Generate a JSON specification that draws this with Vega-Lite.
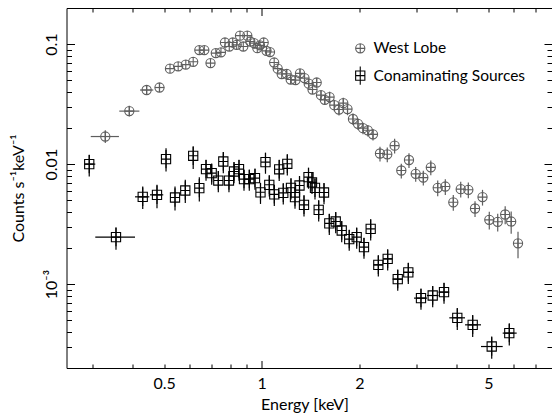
{
  "$schema": "https://vega.github.io/schema/vega-lite/v6.json",
  "width": 485.5,
  "height": 360,
  "autosize": {"type": "none"},
  "padding": {"left": 66.5, "top": 8, "right": 0, "bottom": 49},
  "background": "white",
  "config": {
    "view": {"stroke": null},
    "font": "Lato",
    "axis": {
      "labelFont": "Lato", "titleFont": "Lato", "labelFontSize": 16, "titleFontSize": 16,
      "labelColor": "#000", "titleColor": "#000", "titleFontWeight": "normal",
      "domainColor": "#000", "tickColor": "#000", "domainWidth": 1, "tickWidth": 1,
      "grid": false, "labelOverlap": false, "labelFlush": false, "labelBound": false
    },
    "legend": {
      "labelFont": "Lato", "labelFontSize": 15.5, "symbolSize": 85, "symbolStrokeWidth": 1.1,
      "rowPadding": 6.3, "labelOffset": 5.5, "padding": 0, "labelLimit": 300
    }
  },
  "data": {"values": [
    {"s": "West Lobe", "e": 0.3293, "c": 0.01698, "elo": 0.297, "ehi": 0.3628, "clo": 0.0150, "chi": 0.0192},
    {"s": "West Lobe", "e": 0.3905, "c": 0.02765, "elo": 0.3637, "ehi": 0.4195, "clo": 0.02493, "chi": 0.0306},
    {"s": "West Lobe", "e": 0.4417, "c": 0.04145, "elo": 0.4214, "ehi": 0.4630, "clo": 0.03839, "chi": 0.04477},
    {"s": "West Lobe", "e": 0.4839, "c": 0.04348, "elo": 0.4696, "ehi": 0.5006, "clo": 0.04027, "chi": 0.0469},
    {"s": "West Lobe", "e": 0.5214, "c": 0.06249},
    {"s": "West Lobe", "e": 0.5526, "c": 0.06531},
    {"s": "West Lobe", "e": 0.5833, "c": 0.06749},
    {"s": "West Lobe", "e": 0.6148, "c": 0.07121},
    {"s": "West Lobe", "e": 0.6421, "c": 0.08913},
    {"s": "West Lobe", "e": 0.6653, "c": 0.08913},
    {"s": "West Lobe", "e": 0.6952, "c": 0.06946},
    {"s": "West Lobe", "e": 0.7218, "c": 0.08414},
    {"s": "West Lobe", "e": 0.7488, "c": 0.08541},
    {"s": "West Lobe", "e": 0.7704, "c": 0.1031},
    {"s": "West Lobe", "e": 0.7943, "c": 0.0955},
    {"s": "West Lobe", "e": 0.8140, "c": 0.1031},
    {"s": "West Lobe", "e": 0.8374, "c": 0.09866},
    {"s": "West Lobe", "e": 0.8573, "c": 0.1177},
    {"s": "West Lobe", "e": 0.8774, "c": 0.0955},
    {"s": "West Lobe", "e": 0.9029, "c": 0.1177},
    {"s": "West Lobe", "e": 0.9223, "c": 0.1051},
    {"s": "West Lobe", "e": 0.9468, "c": 0.1019},
    {"s": "West Lobe", "e": 0.9692, "c": 0.09261},
    {"s": "West Lobe", "e": 0.9880, "c": 0.09772},
    {"s": "West Lobe", "e": 1.0143, "c": 0.1031},
    {"s": "West Lobe", "e": 1.0347, "c": 0.08793},
    {"s": "West Lobe", "e": 1.0607, "c": 0.08591},
    {"s": "West Lobe", "e": 1.0928, "c": 0.07025},
    {"s": "West Lobe", "e": 1.1205, "c": 0.06249},
    {"s": "West Lobe", "e": 1.1527, "c": 0.05635},
    {"s": "West Lobe", "e": 1.1941, "c": 0.05656, "clo": 0.05204, "chi": 0.06108},
    {"s": "West Lobe", "e": 1.2284, "c": 0.0507, "clo": 0.04664, "chi": 0.05476},
    {"s": "West Lobe", "e": 1.2716, "c": 0.05012, "clo": 0.04611, "chi": 0.05413},
    {"s": "West Lobe", "e": 1.3126, "c": 0.0571, "clo": 0.05253, "chi": 0.06167},
    {"s": "West Lobe", "e": 1.3552, "c": 0.05208, "clo": 0.04791, "chi": 0.05625},
    {"s": "West Lobe", "e": 1.3964, "c": 0.04686, "clo": 0.04311, "chi": 0.05061},
    {"s": "West Lobe", "e": 1.4346, "c": 0.04185, "clo": 0.0385, "chi": 0.0452},
    {"s": "West Lobe", "e": 1.4778, "c": 0.04786, "clo": 0.04403, "chi": 0.05169},
    {"s": "West Lobe", "e": 1.5237, "c": 0.03758, "clo": 0.03457, "chi": 0.04059},
    {"s": "West Lobe", "e": 1.5653, "c": 0.03434, "clo": 0.03159, "chi": 0.03709},
    {"s": "West Lobe", "e": 1.6196, "c": 0.03617, "clo": 0.03219, "chi": 0.04015},
    {"s": "West Lobe", "e": 1.6745, "c": 0.03102, "clo": 0.02761, "chi": 0.03443},
    {"s": "West Lobe", "e": 1.7314, "c": 0.02851, "clo": 0.02537, "chi": 0.03165},
    {"s": "West Lobe", "e": 1.7852, "c": 0.03223, "clo": 0.02868, "chi": 0.03578},
    {"s": "West Lobe", "e": 1.8395, "c": 0.02873, "clo": 0.02557, "chi": 0.03189},
    {"s": "West Lobe", "e": 1.9122, "c": 0.02376, "clo": 0.02115, "chi": 0.02637},
    {"s": "West Lobe", "e": 1.9815, "c": 0.02167, "clo": 0.01929, "chi": 0.02405},
    {"s": "West Lobe", "e": 2.0535, "c": 0.01995, "clo": 0.01776, "chi": 0.02214},
    {"s": "West Lobe", "e": 2.1246, "c": 0.01913, "clo": 0.01703, "chi": 0.02123},
    {"s": "West Lobe", "e": 2.2043, "c": 0.01771, "clo": 0.01576, "chi": 0.01966},
    {"s": "West Lobe", "e": 2.3166, "c": 0.01226, "clo": 0.01054, "chi": 0.01398},
    {"s": "West Lobe", "e": 2.4399, "c": 0.01207, "clo": 0.01038, "chi": 0.01376},
    {"s": "West Lobe", "e": 2.5704, "c": 0.01426, "clo": 0.01226, "chi": 0.01626},
    {"s": "West Lobe", "e": 2.6955, "c": 0.008845, "clo": 0.007607, "chi": 0.01008},
    {"s": "West Lobe", "e": 2.8465, "c": 0.01082, "clo": 0.009305, "chi": 0.01234},
    {"s": "West Lobe", "e": 2.9854, "c": 0.008301, "clo": 0.007139, "chi": 0.009463},
    {"s": "West Lobe", "e": 3.1514, "c": 0.007718, "clo": 0.006637, "chi": 0.008799},
    {"s": "West Lobe", "e": 3.3236, "c": 0.009404, "clo": 0.008087, "chi": 0.01072},
    {"s": "West Lobe", "e": 3.4908, "c": 0.006346, "clo": 0.005394, "chi": 0.007298},
    {"s": "West Lobe", "e": 3.6843, "c": 0.006506, "clo": 0.00553, "chi": 0.007482},
    {"s": "West Lobe", "e": 3.8994, "c": 0.004805, "clo": 0.004084, "chi": 0.005526},
    {"s": "West Lobe", "e": 4.1104, "c": 0.006189, "clo": 0.005261, "chi": 0.007117},
    {"s": "West Lobe", "e": 4.3387, "c": 0.006107, "clo": 0.005191, "chi": 0.007023},
    {"s": "West Lobe", "e": 4.5497, "c": 0.004266, "clo": 0.003626, "chi": 0.004906},
    {"s": "West Lobe", "e": 4.7983, "c": 0.005309, "clo": 0.004513, "chi": 0.006105},
    {"s": "West Lobe", "e": 5.035, "c": 0.003434, "clo": 0.00285, "chi": 0.004018},
    {"s": "West Lobe", "e": 5.3456, "c": 0.003305, "clo": 0.002743, "chi": 0.003867},
    {"s": "West Lobe", "e": 5.6366, "c": 0.003802, "clo": 0.003156, "chi": 0.004448},
    {"s": "West Lobe", "e": 5.8821, "c": 0.003324, "clo": 0.002626, "chi": 0.004022},
    {"s": "West Lobe", "e": 6.1741, "c": 0.002188, "clo": 0.001641, "chi": 0.002735},
    {"s": "Conaminating Sources", "e": 0.2938, "c": 0.01, "elo": 0.2836, "ehi": 0.3067, "clo": 0.007881, "chi": 0.01196},
    {"s": "Conaminating Sources", "e": 0.3553, "c": 0.002464, "elo": 0.3067, "ehi": 0.4067, "clo": 0.001931, "chi": 0.002985},
    {"s": "Conaminating Sources", "e": 0.4296, "c": 0.005339, "elo": 0.4067, "ehi": 0.4502, "clo": 0.004217, "chi": 0.006506},
    {"s": "Conaminating Sources", "e": 0.4754, "c": 0.005548, "elo": 0.4523, "ehi": 0.497, "clo": 0.004298, "chi": 0.006723},
    {"s": "Conaminating Sources", "e": 0.5069, "c": 0.01101, "clo": 0.008679, "chi": 0.01359},
    {"s": "Conaminating Sources", "e": 0.5403, "c": 0.005268, "clo": 0.004104, "chi": 0.006506},
    {"s": "Conaminating Sources", "e": 0.5812, "c": 0.006026, "clo": 0.004732, "chi": 0.007397},
    {"s": "Conaminating Sources", "e": 0.6148, "c": 0.01173, "clo": 0.009087, "chi": 0.01402},
    {"s": "Conaminating Sources", "e": 0.6421, "c": 0.00631, "clo": 0.00488, "chi": 0.007792},
    {"s": "Conaminating Sources", "e": 0.6734, "c": 0.009087, "clo": 0.00727, "chi": 0.0109},
    {"s": "Conaminating Sources", "e": 0.7011, "c": 0.008414, "clo": 0.006731, "chi": 0.0101},
    {"s": "Conaminating Sources", "e": 0.7348, "c": 0.007297, "clo": 0.005838, "chi": 0.008756},
    {"s": "Conaminating Sources", "e": 0.7614, "c": 0.01051, "clo": 0.008408, "chi": 0.01261},
    {"s": "Conaminating Sources", "e": 0.7926, "c": 0.007297, "clo": 0.005838, "chi": 0.008756},
    {"s": "Conaminating Sources", "e": 0.8215, "c": 0.008679, "clo": 0.006943, "chi": 0.01041},
    {"s": "Conaminating Sources", "e": 0.8511, "c": 0.009087, "clo": 0.00727, "chi": 0.0109},
    {"s": "Conaminating Sources", "e": 0.8819, "c": 0.007499, "clo": 0.005999, "chi": 0.008999},
    {"s": "Conaminating Sources", "e": 0.9157, "c": 0.007499, "clo": 0.005999, "chi": 0.008999},
    {"s": "Conaminating Sources", "e": 0.9535, "c": 0.007644, "clo": 0.006115, "chi": 0.009173},
    {"s": "Conaminating Sources", "e": 0.9915, "c": 0.005821, "clo": 0.004657, "chi": 0.006985},
    {"s": "Conaminating Sources", "e": 1.0273, "c": 0.01039, "clo": 0.008312, "chi": 0.01247},
    {"s": "Conaminating Sources", "e": 1.0554, "c": 0.006723, "clo": 0.005378, "chi": 0.008068},
    {"s": "Conaminating Sources", "e": 1.0936, "c": 0.005601, "clo": 0.004481, "chi": 0.006721},
    {"s": "Conaminating Sources", "e": 1.1324, "c": 0.009052, "clo": 0.007242, "chi": 0.01086},
    {"s": "Conaminating Sources", "e": 1.1656, "c": 0.005765, "clo": 0.004612, "chi": 0.006918},
    {"s": "Conaminating Sources", "e": 1.1995, "c": 0.01006, "clo": 0.008048, "chi": 0.01207},
    {"s": "Conaminating Sources", "e": 1.2313, "c": 0.006346, "clo": 0.005077, "chi": 0.007615},
    {"s": "Conaminating Sources", "e": 1.2669, "c": 0.005309, "clo": 0.004247, "chi": 0.006371},
    {"s": "Conaminating Sources", "e": 1.3081, "c": 0.006633, "clo": 0.005306, "chi": 0.00796},
    {"s": "Conaminating Sources", "e": 1.3505, "c": 0.004579, "clo": 0.003663, "chi": 0.005495},
    {"s": "Conaminating Sources", "e": 1.3944, "c": 0.007792, "clo": 0.006234, "chi": 0.00935},
    {"s": "Conaminating Sources", "e": 1.4295, "c": 0.00705, "clo": 0.00564, "chi": 0.00846},
    {"s": "Conaminating Sources", "e": 1.4601, "c": 0.006346, "clo": 0.005077, "chi": 0.007615},
    {"s": "Conaminating Sources", "e": 1.499, "c": 0.004161, "clo": 0.003329, "chi": 0.004993},
    {"s": "Conaminating Sources", "e": 1.5567, "c": 0.005799, "clo": 0.004639, "chi": 0.006959},
    {"s": "Conaminating Sources", "e": 1.6163, "c": 0.003211, "clo": 0.002569, "chi": 0.003853},
    {"s": "Conaminating Sources", "e": 1.6918, "c": 0.003324, "clo": 0.002659, "chi": 0.003989},
    {"s": "Conaminating Sources", "e": 1.7654, "c": 0.002797, "clo": 0.002238, "chi": 0.003356},
    {"s": "Conaminating Sources", "e": 1.862, "c": 0.002371, "clo": 0.001897, "chi": 0.002845},
    {"s": "Conaminating Sources", "e": 1.9634, "c": 0.002464, "clo": 0.001971, "chi": 0.002957},
    {"s": "Conaminating Sources", "e": 2.0678, "c": 0.002033, "clo": 0.001626, "chi": 0.00244},
    {"s": "Conaminating Sources", "e": 2.1685, "c": 0.002889, "clo": 0.002311, "chi": 0.003467},
    {"s": "Conaminating Sources", "e": 2.2894, "c": 0.001448, "elo": 2.2125, "ehi": 2.3666, "clo": 0.001158, "chi": 0.001738},
    {"s": "Conaminating Sources", "e": 2.4468, "c": 0.001624, "elo": 2.3666, "ehi": 2.532, "clo": 0.001299, "chi": 0.001949},
    {"s": "Conaminating Sources", "e": 2.6279, "c": 0.001101, "elo": 2.532, "ehi": 2.729, "clo": 0.000881, "chi": 0.001321},
    {"s": "Conaminating Sources", "e": 2.8327, "c": 0.001254, "elo": 2.729, "ehi": 2.9498, "clo": 0.001003, "chi": 0.001505},
    {"s": "Conaminating Sources", "e": 3.0997, "c": 0.0007644, "elo": 2.9498, "ehi": 3.2358, "clo": 0.0006115, "chi": 0.0009173},
    {"s": "Conaminating Sources", "e": 3.3686, "c": 0.0008035, "elo": 3.2358, "ehi": 3.5108, "clo": 0.0006428, "chi": 0.0009642},
    {"s": "Conaminating Sources", "e": 3.6506, "c": 0.0008577, "elo": 3.5108, "ehi": 3.79, "clo": 0.0006862, "chi": 0.001029},
    {"s": "Conaminating Sources", "e": 4.0114, "c": 0.0005238, "elo": 3.79, "ehi": 4.2382, "clo": 0.0004138, "chi": 0.0006338},
    {"s": "Conaminating Sources", "e": 4.475, "c": 0.0004579, "elo": 4.2382, "ehi": 4.7479, "clo": 0.0003617, "chi": 0.0005541},
    {"s": "Conaminating Sources", "e": 5.1225, "c": 0.000302, "elo": 4.7479, "ehi": 5.5376, "clo": 0.0002386, "chi": 0.0003654},
    {"s": "Conaminating Sources", "e": 5.8029, "c": 0.0003906, "elo": 5.5376, "ehi": 6.1169, "clo": 0.0003086, "chi": 0.0004726}
  ]},
  "layer": [
    {
      "mark": {"type": "point", "filled": false, "size": 85, "strokeWidth": 1.1, "opacity": 1},
      "encoding": {
        "x": {
          "field": "e", "type": "quantitative",
          "scale": {"type": "log", "domain": [0.25, 7.86], "nice": false},
          "axis": {
            "orient": "bottom",
            "values": [0.3, 0.4, 0.5, 0.6, 0.7, 0.8, 0.9, 1, 2, 3, 4, 5, 6, 7],
            "labelExpr": "indexof([0.5, 1, 2, 5], datum.value) >= 0 ? '' + datum.value : ''",
            "tickSize": {"condition": {"test": "datum.value == 1", "value": -7.5}, "value": -4},
            "labelPadding": {"condition": {"test": "datum.value == 1", "value": 15}, "value": 11.5},
            "title": "Energy [keV]",
            "titleX": 238,
            "titlePadding": 5
          }
        },
        "y": {
          "field": "c", "type": "quantitative",
          "scale": {"type": "log", "domain": [0.0002, 0.2], "nice": false},
          "axis": {
            "orient": "left",
            "values": [0.0003, 0.0004, 0.0005, 0.0006, 0.0007, 0.0008, 0.0009, 0.001, 0.002, 0.003, 0.004, 0.005, 0.006, 0.007, 0.008, 0.009, 0.01, 0.02, 0.03, 0.04, 0.05, 0.06, 0.07, 0.08, 0.09, 0.1],
            "labelExpr": "datum.value == 0.1 ? '0.1' : datum.value == 0.01 ? '0.01' : datum.value == 0.001 ? '10⁻³' : ''",
            "labelAngle": -90,
            "labelAlign": "center",
            "labelBaseline": "bottom",
            "tickSize": {"condition": {"test": "datum.value == 0.1 || datum.value == 0.01 || datum.value == 0.001", "value": -8}, "value": -5},
            "labelPadding": {"condition": {"test": "datum.value == 0.1 || datum.value == 0.01 || datum.value == 0.001", "value": 15}, "value": 12},
            "title": "Counts s⁻¹keV⁻¹",
            "titlePadding": 17
          }
        },
        "color": {
          "field": "s", "type": "nominal",
          "scale": {"domain": ["West Lobe", "Conaminating Sources"], "range": ["#5e5e5e", "#000000"]},
          "legend": {"title": null, "orient": "none", "legendX": 286, "legendY": 32.6,
            "encode": {"labels": {"update": {"fill": [{"test": "datum.value === 'West Lobe'", "value": "#6b6b6b"}, {"value": "#000000"}]}}}}
        },
        "shape": {
          "field": "s", "type": "nominal",
          "scale": {"domain": ["West Lobe", "Conaminating Sources"], "range": ["M-1,0A1,1 0 1,1 1,0A1,1 0 1,1 -1,0ZM-1,0L1,0M0,-1L0,1", "M-1,-1L1,-1L1,1L-1,1ZM-1,0L1,0M0,-2L0,2"]},
          "legend": {"title": null, "orient": "none", "legendX": 286, "legendY": 32.6,
            "encode": {"labels": {"update": {"fill": [{"test": "datum.value === 'West Lobe'", "value": "#6b6b6b"}, {"value": "#000000"}]}}}}
        }
      }
    },
    {
      "transform": [{"filter": "isValid(datum.elo) && datum.s == 'West Lobe'"}],
      "mark": {"type": "rule", "strokeWidth": 1.2, "color": "#5e5e5e"},
      "encoding": {
        "x": {"field": "elo", "type": "quantitative", "scale": {"type": "log", "domain": [0.25, 7.86], "nice": false}, "axis": null},
        "x2": {"field": "ehi"},
        "y": {"field": "c", "type": "quantitative", "scale": {"type": "log", "domain": [0.0002, 0.2], "nice": false}, "axis": null}
      }
    },
    {
      "transform": [{"filter": "isValid(datum.elo) && datum.s != 'West Lobe'"}],
      "mark": {"type": "rule", "strokeWidth": 1.2, "color": "#000000"},
      "encoding": {
        "x": {"field": "elo", "type": "quantitative", "scale": {"type": "log", "domain": [0.25, 7.86], "nice": false}, "axis": null},
        "x2": {"field": "ehi"},
        "y": {"field": "c", "type": "quantitative", "scale": {"type": "log", "domain": [0.0002, 0.2], "nice": false}, "axis": null}
      }
    },
    {
      "transform": [{"filter": "isValid(datum.clo) && datum.s == 'West Lobe'"}],
      "mark": {"type": "rule", "strokeWidth": 1.2, "color": "#5e5e5e"},
      "encoding": {
        "x": {"field": "e", "type": "quantitative", "scale": {"type": "log", "domain": [0.25, 7.86], "nice": false}, "axis": null},
        "y": {"field": "clo", "type": "quantitative", "scale": {"type": "log", "domain": [0.0002, 0.2], "nice": false}, "axis": null},
        "y2": {"field": "chi"}
      }
    },
    {
      "transform": [{"filter": "isValid(datum.clo) && datum.s != 'West Lobe'"}],
      "mark": {"type": "rule", "strokeWidth": 1.2, "color": "#000000"},
      "encoding": {
        "x": {"field": "e", "type": "quantitative", "scale": {"type": "log", "domain": [0.25, 7.86], "nice": false}, "axis": null},
        "y": {"field": "clo", "type": "quantitative", "scale": {"type": "log", "domain": [0.0002, 0.2], "nice": false}, "axis": null},
        "y2": {"field": "chi"}
      }
    },
    {
      "mark": {"type": "point", "opacity": 0},
      "encoding": {
        "x": {
          "field": "e", "type": "quantitative",
          "scale": {"type": "log", "domain": [0.25, 7.86], "nice": false},
          "axis": {
            "orient": "top", "labels": false, "title": null,
            "values": [0.3, 0.4, 0.5, 0.6, 0.7, 0.8, 0.9, 1, 2, 3, 4, 5, 6, 7],
            "tickSize": {"condition": {"test": "datum.value == 1", "value": -7.5}, "value": -4}
          }
        },
        "y": {
          "field": "c", "type": "quantitative",
          "scale": {"type": "log", "domain": [0.0002, 0.2], "nice": false},
          "axis": {
            "orient": "right", "labels": false, "title": null,
            "values": [0.0003, 0.0004, 0.0005, 0.0006, 0.0007, 0.0008, 0.0009, 0.001, 0.002, 0.003, 0.004, 0.005, 0.006, 0.007, 0.008, 0.009, 0.01, 0.02, 0.03, 0.04, 0.05, 0.06, 0.07, 0.08, 0.09, 0.1],
            "tickSize": {"condition": {"test": "datum.value == 0.1 || datum.value == 0.01 || datum.value == 0.001", "value": -8}, "value": -5}
          }
        }
      }
    }
  ],
  "resolve": {"axis": {"x": "independent", "y": "independent"}}
}
